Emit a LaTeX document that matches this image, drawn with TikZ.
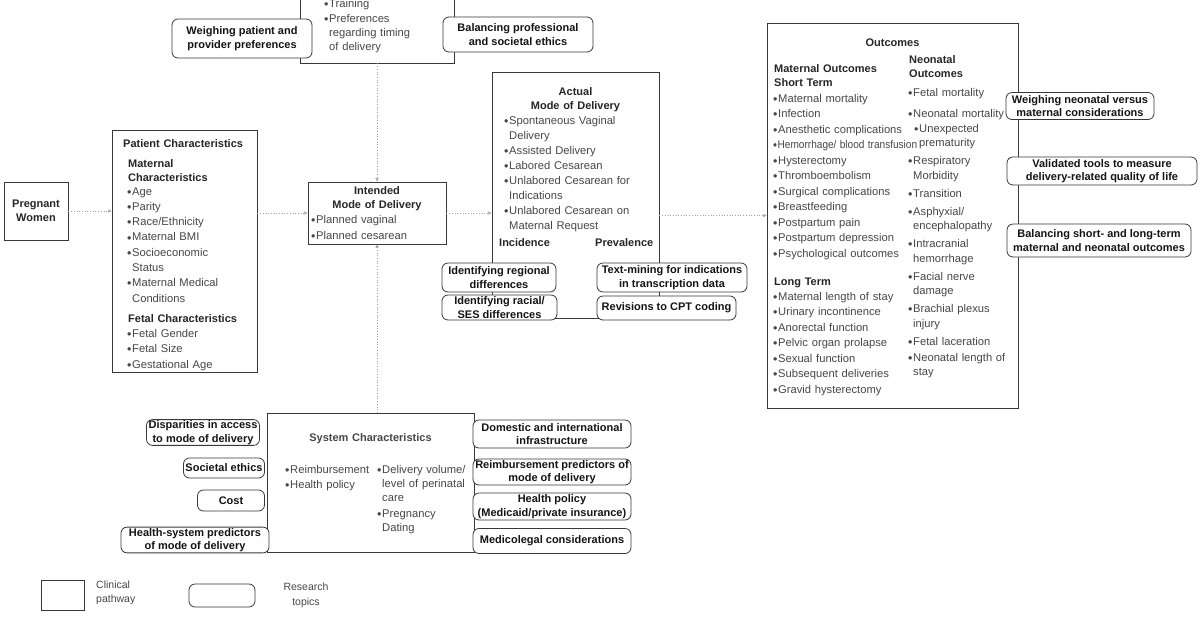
\documentclass[tikz,border=0pt]{standalone}
\usepackage{fontspec}
\setmainfont{Liberation Sans}
\usetikzlibrary{arrows.meta}
\definecolor{txt}{HTML}{474747}
\definecolor{hdr}{HTML}{262626}
\definecolor{edge}{HTML}{383838}
\definecolor{conn}{HTML}{A0A0A0}
\newcommand\bl{\makebox[5pt][l]{\raisebox{-1.1pt}{\fontsize{12.5}{12}\selectfont •}}}
\newcommand\ct{\hspace*{5pt}}
\tikzset{
 cbox/.style={draw=edge, line width=0.8pt, rectangle, inner sep=0pt},
 rbox/.style={draw=edge, line width=0.8pt, rounded corners=6pt, fill=white, align=center, inner sep=1pt, text=black!92, font=\bfseries\fontsize{11}{13.5}\selectfont},
 lst/.style={anchor=base west, inner sep=0pt, align=left, text width=#1, text=txt, font=\fontsize{11.2}{15.5}\selectfont},
 lst/.default=170pt,
 hd/.style={anchor=base west, inner sep=0pt, align=left, text width=#1, text=hdr, font=\bfseries\fontsize{11}{14}\selectfont},
 hd/.default=170pt,
 hdc/.style={anchor=base, inner sep=0pt, align=center, text width=#1, text=hdr, font=\bfseries\fontsize{11}{14}\selectfont},
 hdc/.default=160pt,
 arr/.style={draw=conn, dotted, line width=0.7pt, -{Stealth[length=4pt,width=3.5pt]}},
}
\begin{document}
\begin{tikzpicture}[x=1pt,y=-1pt]
\fill[white] (0,0) rectangle (1200,630);
\useasboundingbox (0,0) rectangle (1200,630);

% clinical pathway boxes
\node[cbox, minimum width=154pt, minimum height=123pt] (prov) at (377,1.5) {};
\node[cbox, minimum width=64pt, minimum height=58pt, align=center, text=hdr, font=\bfseries\fontsize{11}{14}\selectfont] (preg) at (36,211) {Pregnant\\Women};
\node[cbox, minimum width=145pt, minimum height=242pt] (pat) at (184.5,251) {};
\node[cbox, minimum width=138pt, minimum height=62pt] (intd) at (377,213) {};
\node[cbox, minimum width=167pt, minimum height=246pt] (act) at (575.5,195) {};
\node[cbox, minimum width=251pt, minimum height=385pt] (outc) at (892.5,215.5) {};
\node[cbox, minimum width=207pt, minimum height=139pt] (sys) at (370.5,482.5) {};

% provider box text
\node[lst=130pt, font=\fontsize{11.2}{14}\selectfont] (provl) at (324,7) {\bl Training\\[1pt]\bl Preferences\\\ct regarding timing\\\ct of delivery};

% patient characteristics
\node[hd] (path) at (123,147) {Patient Characteristics};
\node[hd] (patm) at (128,167) {Maternal\\Characteristics};
\node[lst, font=\fontsize{11.2}{15.3}\selectfont] (patl1) at (127,195) {\bl Age\\\bl Parity\\\bl Race/Ethnicity\\\bl Maternal BMI\\\bl Socioeconomic\\\ct Status\\\bl Maternal Medical\\\ct Conditions};
\node[hd] (patf) at (128,322) {Fetal Characteristics};
\node[lst] (patl2) at (127,337) {\bl Fetal Gender\\\bl Fetal Size\\\bl Gestational Age};

% intended
\node[hdc=138pt] (intdh) at (377,194) {Intended\\Mode of Delivery};
\node[lst, font=\fontsize{11.2}{16}\selectfont] (intdl) at (311,223) {\bl Planned vaginal\\\bl Planned cesarean};

% actual
\node[hdc=167pt] (acth) at (575.5,95) {Actual\\Mode of Delivery};
\node[lst, font=\fontsize{11.2}{15}\selectfont] (actl) at (504,124) {\bl Spontaneous Vaginal\\\ct Delivery\\\bl Assisted Delivery\\\bl Labored Cesarean\\\bl Unlabored Cesarean for\\\ct Indications\\\bl Unlabored Cesarean on\\\ct Maternal Request};
\node[hd] (inc) at (499,246) {Incidence};
\node[hd] (prev) at (595,246) {Prevalence};

% outcomes
\node[hdc=251pt] (outch) at (892.5,46) {Outcomes};
\node[hd] (mat) at (774,72) {Maternal Outcomes\\Short Term};
\node[lst] (matl) at (773,102) {\bl Maternal mortality\\\bl Infection\\\bl Anesthetic complications\\\scalebox{0.9}[1]{\bl Hemorrhage/ blood transfusion}\\\bl Hysterectomy\\\bl Thromboembolism\\\bl Surgical complications\\\bl Breastfeeding\\\bl Postpartum pain\\\bl Postpartum depression\\\bl Psychological outcomes};
\node[hd] (lt) at (774,285) {Long Term};
\node[lst] (ltl) at (773,300) {\bl Maternal length of stay\\\bl Urinary incontinence\\\bl Anorectal function\\\bl Pelvic organ prolapse\\\bl Sexual function\\\bl Subsequent deliveries\\\bl Gravid hysterectomy};
\node[hd=100pt] (neo) at (909,63) {Neonatal\\Outcomes};
\node[lst=130pt, font=\fontsize{11.2}{14.5}\selectfont] (neol) at (908,96) {\bl Fetal mortality\\[6.5pt]\bl Neonatal mortality\\[0.5pt]\hspace*{6pt}\bl Unexpected\\\hspace*{6pt}\ct prematurity\\[3.5pt]\bl Respiratory\\\ct Morbidity\\[3.5pt]\bl Transition\\[3.5pt]\bl Asphyxial/\\\ct encephalopathy\\[3.5pt]\bl Intracranial\\\ct hemorrhage\\[3.5pt]\bl Facial nerve\\\ct damage\\[3.5pt]\bl Brachial plexus\\\ct injury\\[3.5pt]\bl Fetal laceration\\[1.5pt]\bl Neonatal length of\\\ct stay};

% system
\node[hdc=207pt, text=txt] (sysh) at (370.5,441) {System Characteristics};
\node[lst=90pt, font=\fontsize{11.2}{15}\selectfont] (sysl1) at (285,473) {\bl Reimbursement\\\bl Health policy};
\node[lst=95pt, font=\fontsize{11.2}{14.3}\selectfont] (sysl2) at (377,473) {\bl Delivery volume/\\\ct level of perinatal\\\ct care\\[1.5pt]\bl Pregnancy\\\ct Dating};

% connectors
\draw[arr] (preg.east) -- (preg.east -| pat.west);
\draw[arr] (pat.east |- intd.west) -- (intd.west);
\draw[arr] (intd.east) -- (intd.east -| act.west);
\draw[arr] (act.east |- outc.west) -- (outc.west);
\draw[arr] (prov.south) -- (intd.north);
\draw[arr] (intd.south |- sys.north) -- (intd.south);

% research topics
\node[rbox, minimum width=140pt, minimum height=39pt, font=\bfseries\fontsize{11}{14.5}\selectfont] (rtop1) at (242,38.5) {Weighing patient and\\provider preferences};
\node[rbox, minimum width=150pt, minimum height=35pt] (rtop2) at (518,34.5) {Balancing professional\\and societal ethics};
\node[rbox, minimum width=114pt, minimum height=29pt] (rinc1) at (499,277.5) {Identifying regional\\differences};
\node[rbox, minimum width=115pt, minimum height=25pt] (rinc2) at (499.5,307.5) {Identifying racial/\\SES differences};
\node[rbox, minimum width=150pt, minimum height=29pt] (rprev1) at (672,277.5) {Text-mining for indications\\in transcription data};
\node[rbox, minimum width=139pt, minimum height=24pt] (rprev2) at (666.5,308) {Revisions to CPT coding};
\node[rbox, minimum width=148pt, minimum height=27pt] (rout1) at (1080,106) {Weighing neonatal versus\\maternal considerations};
\node[rbox, minimum width=190pt, minimum height=28pt] (rout2) at (1102,171) {Validated tools to measure\\delivery-related quality of life};
\node[rbox, minimum width=184pt, minimum height=33pt] (rout3) at (1099,240.5) {Balancing short- and long-term\\maternal and neonatal outcomes};
\node[rbox, minimum width=113pt, minimum height=25pt] (rs1) at (203,432.5) {Disparities in access\\to mode of delivery};
\node[rbox, minimum width=81pt, minimum height=20pt] (rs2) at (224,468) {Societal ethics};
\node[rbox, minimum width=67pt, minimum height=21pt] (rs3) at (231,500.5) {Cost};
\node[rbox, minimum width=148pt, minimum height=24pt] (rs4) at (195,540) {Health-system predictors\\of mode of delivery};
\node[rbox, minimum width=158pt, minimum height=28pt] (rs5) at (552,434) {Domestic and international\\infrastructure};
\node[rbox, minimum width=158pt, minimum height=26pt] (rs6) at (552,472) {Reimbursement predictors of\\mode of delivery};
\node[rbox, minimum width=158pt, minimum height=27pt] (rs7) at (552,506.5) {Health policy\\(Medicaid/private insurance)};
\node[rbox, minimum width=158pt, minimum height=25pt] (rs8) at (552,541) {Medicolegal considerations};

% legend
\node[cbox, minimum width=43pt, minimum height=30pt] (lgc) at (62.5,595) {};
\node[anchor=west, inner sep=0pt, align=left, text=txt, font=\fontsize{10.5}{14}\selectfont] (lgct) at (96,593) {Clinical\\pathway};
\node[rbox, minimum width=66pt, minimum height=23pt] (lgr) at (222,595.5) {};
\node[inner sep=0pt, align=center, text=txt, font=\fontsize{10.5}{15}\selectfont] (lgrt) at (306,595.5) {Research\\topics};
\end{tikzpicture}
\end{document}
